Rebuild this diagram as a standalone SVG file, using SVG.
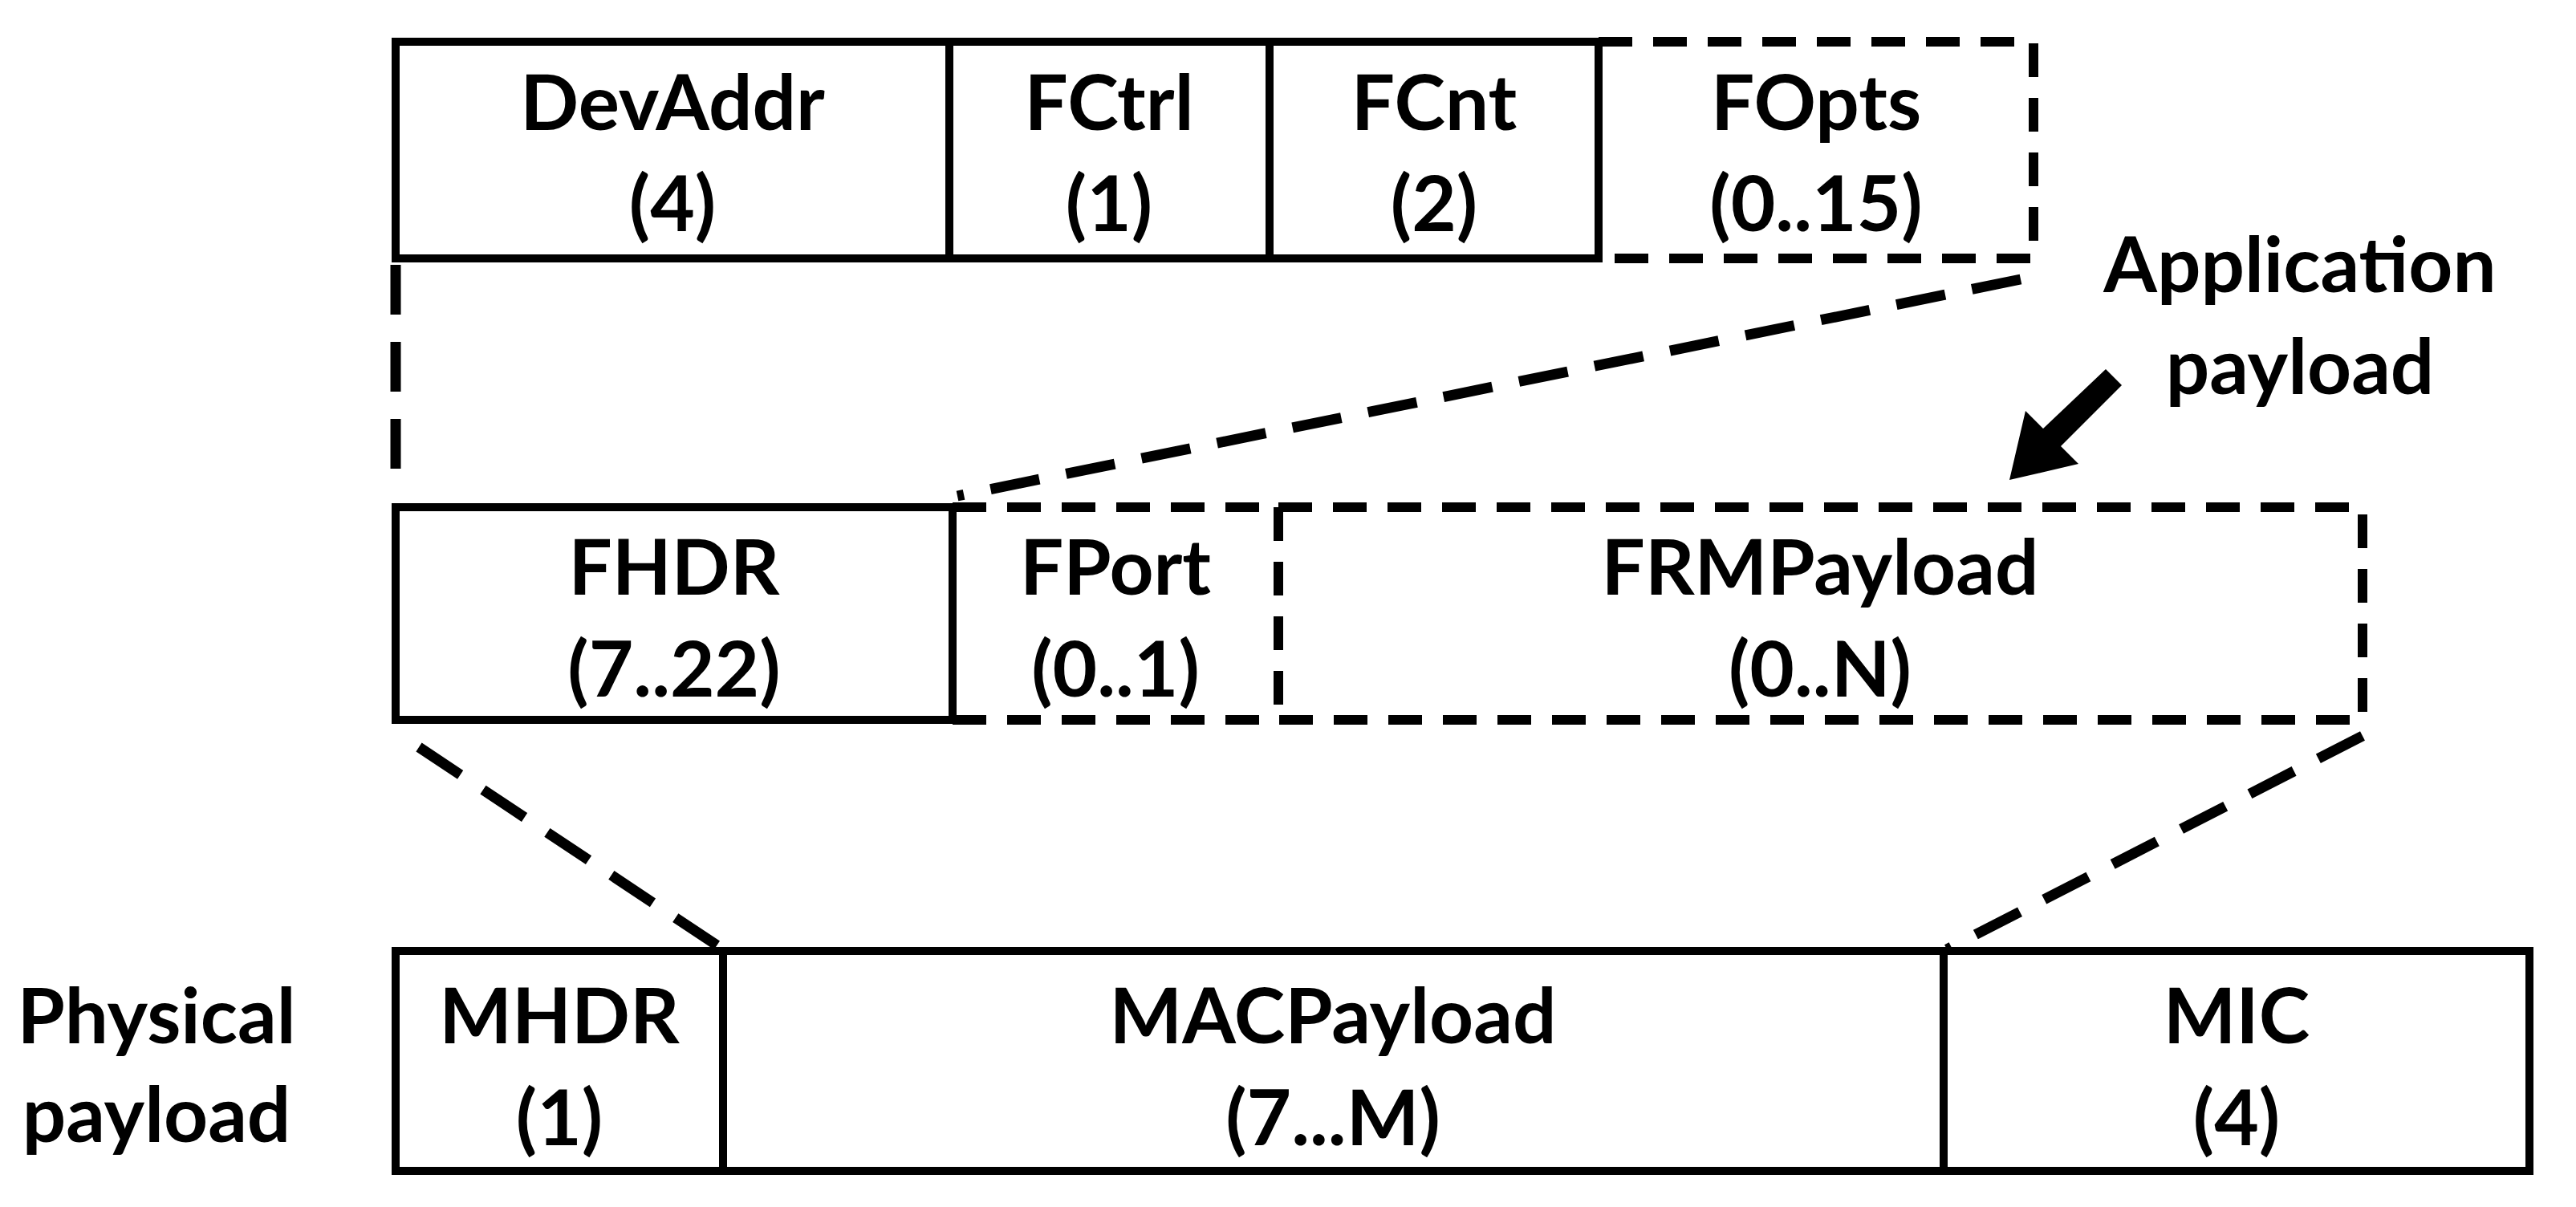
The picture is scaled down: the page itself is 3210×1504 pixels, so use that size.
<svg xmlns="http://www.w3.org/2000/svg" width="3210" height="1504" viewBox="0 0 3210 1504">
<style>
.s{fill:none;stroke:#000;stroke-width:10}
.d{fill:none;stroke:#000;stroke-width:12;stroke-dasharray:42 26}
.c{fill:none;stroke:#000;stroke-width:13;stroke-dasharray:62 34}
text{font-family:Lato,"Open Sans",sans-serif;font-weight:bold;font-size:96px;text-anchor:middle;fill:#000}
</style>
<rect width="3210" height="1504" fill="#fff"/>
<g id="devaddr"><rect class="s" x="493" y="52" width="690" height="270"/><text x="838" y="162">DevAddr</text><text x="838" y="288">(4)</text></g>
<g id="fctrl"><rect class="s" x="1183" y="52" width="399" height="270"/><text x="1382" y="162">FCtrl</text><text x="1382" y="288">(1)</text></g>
<g id="fcnt"><rect class="s" x="1582" y="52" width="410" height="270"/><text x="1787" y="162">FCnt</text><text x="1787" y="288">(2)</text></g>
<g id="fopts"><path class="d" d="M1992 52H2534V322H1992"/><text x="2263" y="162">FOpts</text><text x="2263" y="288">(0..15)</text></g>
<g id="fhdr"><rect class="s" x="493" y="632" width="694" height="265"/><text x="840" y="741">FHDR</text><text x="840" y="868">(7..22)</text></g>
<g id="fport"><path class="d" d="M1187 632H1593M1187 897H1593M1593 632V897"/><text x="1390" y="741">FPort</text><text x="1390" y="868">(0..1)</text></g>
<g id="frmpayload"><path class="d" d="M1593 632H2944V897H1593"/><text x="2268" y="741">FRMPayload</text><text x="2268" y="868">(0..N)</text></g>
<g id="mhdr"><rect class="s" x="493" y="1185" width="408" height="274"/><text x="697" y="1300">MHDR</text><text x="697" y="1427">(1)</text></g>
<g id="macpayload"><rect class="s" x="901" y="1185" width="1521" height="274"/><text x="1661" y="1300">MACPayload</text><text x="1661" y="1427">(7...M)</text></g>
<g id="mic"><rect class="s" x="2422" y="1185" width="730" height="274"/><text x="2787" y="1300">MIC</text><text x="2787" y="1427">(4)</text></g>
<g id="labels"><text x="195" y="1300">Physical</text><text x="195" y="1423">payload</text><text x="2866" y="364">Application</text><text x="2866" y="491">payload</text></g>
<g id="connectors">
<path class="c" d="M493 330V610"/>
<path class="c" d="M2518 348L1193 618"/>
<path class="c" d="M522 931L901 1183"/>
<path class="c" d="M2944 917L2426 1183"/>
<polygon fill="#000" points="2624,460 2644,480 2568,556 2590,578 2504,598 2524,512 2546,534"/>
</g>
</svg>
